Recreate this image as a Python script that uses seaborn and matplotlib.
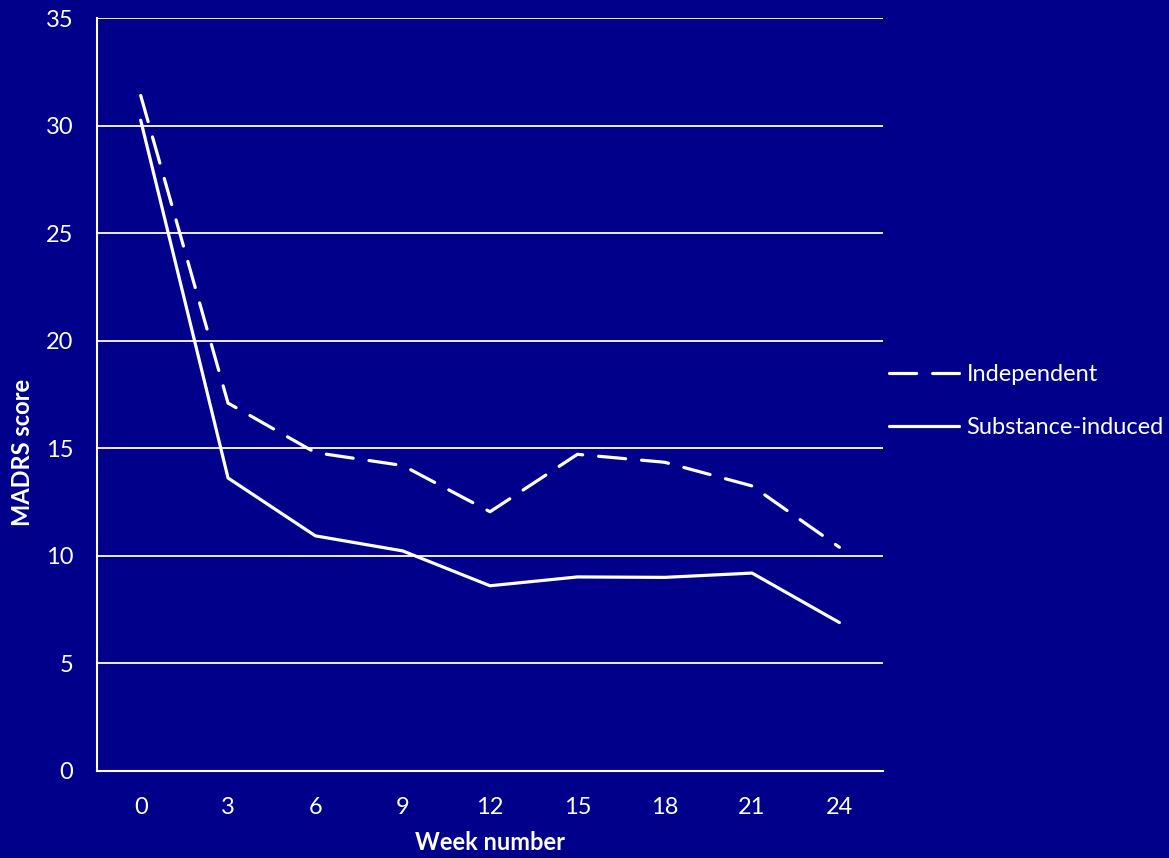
import matplotlib
matplotlib.use("Agg")
import matplotlib.pyplot as plt
import seaborn as sns
import pandas as pd

weeks = ["0", "3", "6", "9", "12", "15", "18", "21", "24"]
independent = [31.4, 17.1, 14.8, 14.2, 12.05, 14.72, 14.35, 13.25, 10.4]
substance_induced = [30.25, 13.62, 10.93, 10.23, 8.61, 9.02, 9.0, 9.2, 6.9]
series_names = ["Independent", "Substance-induced"]
y_ticks = [0, 5, 10, 15, 20, 25, 30, 35]

bg = "#00008B"
fg = "white"

df = pd.DataFrame({
    "week": weeks * 2,
    "score": independent + substance_induced,
    "group": [series_names[0]] * len(weeks) + [series_names[1]] * len(weeks),
})

sns.set_theme(style="white")
plt.rcParams["font.family"] = ["Lato", "DejaVu Sans"]

fig = plt.figure(figsize=(11.69, 8.58), dpi=100, facecolor=bg)
ax = fig.add_axes([0.083, 0.1014, 0.6724, 0.8776])
ax.set_facecolor(bg)

lw = 2.3
sns.lineplot(
    data=df, x="week", y="score", style="group", ax=ax,
    color=fg, linewidth=lw, sort=False,
    style_order=series_names,
    dashes={series_names[0]: (8.5, 5.0), series_names[1]: ""},
    legend=True,
)
for line in ax.get_lines():
    line.set_dash_capstyle("round")
    line.set_solid_capstyle("round")

ax.set_xlim(-0.5, len(weeks) - 0.5)
ax.set_ylim(0, 35)
ax.set_yticks(y_ticks)
ax.yaxis.grid(True, color=fg, linewidth=1.3)
ax.xaxis.grid(False)
ax.set_axisbelow(True)

for side in ["top", "right"]:
    ax.spines[side].set_visible(False)
for side in ["left", "bottom"]:
    ax.spines[side].set_color(fg)
    ax.spines[side].set_linewidth(1.5)

fs = 17
ax.tick_params(axis="both", colors=fg, labelsize=fs, length=0)
ax.tick_params(axis="x", pad=19)
ax.tick_params(axis="y", pad=17)

ax.set_xlabel("Week number", color=fg, fontsize=fs, fontweight="bold")
ax.xaxis.set_label_coords(490 / 1169, 1 - 831 / 858, transform=fig.transFigure)
ax.set_ylabel("MADRS score", color=fg, fontsize=fs, fontweight="bold")
ax.yaxis.set_label_coords(34 / 1169, 1 - 452 / 858, transform=fig.transFigure)

leg = ax.legend(
    loc="center left", bbox_to_anchor=(0.752, 1 - 401 / 858), bbox_transform=fig.transFigure,
    frameon=False, fontsize=fs, handlelength=3.0, handletextpad=0.3,
    labelspacing=1.35, borderaxespad=0,
)
for txt in leg.get_texts():
    txt.set_color(fg)
for h in leg.get_lines():
    h.set_color(fg)
    h.set_linewidth(lw)

fig.savefig("out.png", dpi=100, facecolor=bg)
